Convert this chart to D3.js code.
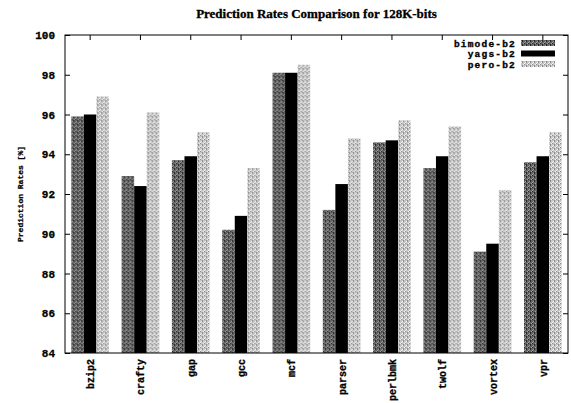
<!DOCTYPE html>
<html>
<head>
<meta charset="utf-8">
<script src="https://cdn.jsdelivr.net/npm/d3@7"></script>
<style>
  body { margin: 0; background: #fff; }
  svg { display: block; }
  text { fill: #000; }
</style>
</head>
<body>
<svg id="chart"></svg>
<script>
// benchmarks on the x axis
const categories = ['bzip2', 'crafty', 'gap', 'gcc', 'mcf', 'parser', 'perlbmk', 'twolf', 'vortex', 'vpr']
const seriesNames = ['bimode-b2', 'yags-b2', 'pero-b2']
// prediction rates [%]
const bimode = [95.9, 92.9, 93.7, 90.2, 98.1, 91.2, 94.6, 93.3, 89.1, 93.6]
const yags   = [96.0, 92.4, 93.9, 90.9, 98.1, 92.5, 94.7, 93.9, 89.5, 93.9]
const pero   = [96.9, 96.1, 95.1, 93.3, 98.5, 94.8, 95.7, 95.4, 92.2, 95.1]
const yTicks = [84, 86, 88, 90, 92, 94, 96, 98, 100]

const W = 571, H = 403
const margin = {top: 35, right: 3, bottom: 50, left: 65}
const innerW = W - margin.left - margin.right
const innerH = H - margin.top - margin.bottom
const mono = 'Liberation Mono, DejaVu Sans Mono, monospace'

const svg = d3.select('#chart').attr('width', W).attr('height', H)

// dithered fills, like the scanned print
const defs = svg.append('defs')
function dither(id, a, b, c) {
    const p = defs.append('pattern').attr('id', id)
        .attr('width', 4).attr('height', 4)
        .attr('patternUnits', 'userSpaceOnUse')
    p.append('rect').attr('width', 4).attr('height', 4).attr('fill', a)
    p.append('rect').attr('x', 0).attr('y', 0).attr('width', 1).attr('height', 1).attr('fill', b)
    p.append('rect').attr('x', 2).attr('y', 2).attr('width', 1).attr('height', 1).attr('fill', b)
    p.append('rect').attr('x', 1).attr('y', 2).attr('width', 1).attr('height', 1).attr('fill', c)
    p.append('rect').attr('x', 3).attr('y', 0).attr('width', 1).attr('height', 1).attr('fill', c)
    p.append('rect').attr('x', 2).attr('y', 1).attr('width', 1).attr('height', 1).attr('fill', b)
    p.append('rect').attr('x', 0).attr('y', 3).attr('width', 1).attr('height', 1).attr('fill', c)
}
dither('pBimode', '#646464', '#262626', '#a0a0a0')
dither('pPero', '#c6c6c6', '#8a8a8a', '#f4f4f4')
const fills = ['url(#pBimode)', '#000', 'url(#pPero)']

const g = svg.append('g').attr('transform', `translate(${margin.left},${margin.top})`)

const x = d3.scaleBand().domain(categories).range([0, innerW]).paddingInner(0).paddingOuter(0)
const xs = d3.scaleBand().domain(seriesNames).range([0, x.bandwidth() * 0.75]).padding(0)
const y = d3.scaleLinear().domain([84, 100]).range([innerH, 0])

const data = categories.map((c, i) => ({cat: c, vals: [bimode[i], yags[i], pero[i]]}))

const groups = g.selectAll('g.grp').data(data).enter().append('g')
    .attr('class', 'grp')
    .attr('transform', d => `translate(${x(d.cat) + x.bandwidth() * 0.125},0)`)

groups.selectAll('rect')
    .data(d => d.vals.map((v, k) => ({name: seriesNames[k], v: v, k: k})))
    .enter().append('rect')
    .attr('x', d => xs(d.name))
    .attr('y', d => y(d.v))
    .attr('width', xs.bandwidth())
    .attr('height', d => innerH - y(d.v))
    .attr('fill', d => fills[d.k])

// border box
g.append('rect').attr('width', innerW).attr('height', innerH)
    .attr('fill', 'none').attr('stroke', '#000').attr('stroke-width', 1)

// y ticks (inward, mirrored on the right)
const yAxis = d3.axisLeft(y).tickValues(yTicks).tickSize(-5).tickPadding(10)
g.append('g').call(yAxis)
    .call(a => a.select('.domain').remove())
    .selectAll('text')
    .attr('font-family', mono)
    .attr('font-weight', 'bold').attr('font-size', 11)
    .attr('stroke', '#000').attr('stroke-width', 0.3)
g.append('g').attr('transform', `translate(${innerW},0)`)
    .call(d3.axisRight(y).tickValues(yTicks).tickSize(-5).tickFormat(''))
    .call(a => a.select('.domain').remove())

// x ticks at group centres, bottom and top
g.append('g').attr('transform', `translate(0,${innerH})`)
    .call(d3.axisBottom(x).tickSize(-5).tickFormat(''))
    .call(a => a.select('.domain').remove())
g.append('g')
    .call(d3.axisTop(x).tickSize(-5).tickFormat(''))
    .call(a => a.select('.domain').remove())

g.selectAll('text.xl').data(categories).enter().append('text')
    .attr('class', 'xl')
    .attr('transform', d => `translate(${x(d) + x.bandwidth() / 2 + 4},${innerH + 6}) rotate(-90)`)
    .attr('text-anchor', 'end')
    .attr('font-family', mono)
    .attr('font-weight', 'bold').attr('font-size', 10)
    .attr('stroke', '#000').attr('stroke-width', 0.3)
    .text(d => d)

// axis title
svg.append('text')
    .attr('transform', `translate(23,${margin.top + innerH / 2}) rotate(-90)`)
    .attr('text-anchor', 'middle')
    .attr('font-family', mono)
    .attr('font-weight', 'bold').attr('font-size', 8)
    .attr('stroke', '#000').attr('stroke-width', 0.25)
    .text('Prediction Rates [%]')

// chart title
svg.append('text')
    .attr('x', margin.left + innerW / 2).attr('y', 18)
    .attr('text-anchor', 'middle')
    .attr('font-family', 'Liberation Serif, serif')
    .attr('font-weight', 'bold').attr('font-size', 13)
    .attr('stroke', '#000').attr('stroke-width', 0.3)
    .text('Prediction Rates Comparison for 128K-bits')

// legend
const legend = svg.append('g').attr('transform', 'translate(516,43)')
seriesNames.forEach((s, k) => {
    const row = legend.append('g').attr('transform', `translate(0,${k * 10.5})`)
    row.append('text').attr('text-anchor', 'end').attr('y', 3.5)
        .attr('font-family', mono)
        .attr('font-weight', 'bold').attr('font-size', 9.5)
        .attr('letter-spacing', 1.2)
        .attr('stroke', '#000').attr('stroke-width', 0.35)
        .text(s)
    row.append('rect').attr('x', 5).attr('y', -3).attr('width', 34).attr('height', 6)
        .attr('fill', fills[k])
})
</script>
</body>
</html>
